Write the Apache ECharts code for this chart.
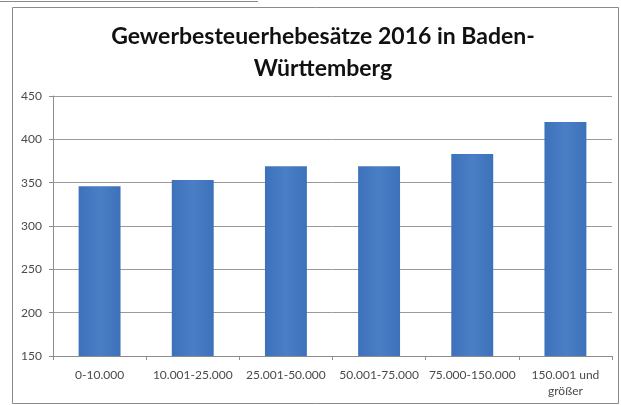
<!DOCTYPE html>
<html>
<head>
<meta charset="utf-8">
<script src="https://cdn.jsdelivr.net/npm/echarts@6/dist/echarts.min.js"></script>
<style>
  html, body { margin: 0; padding: 0; background: #ffffff; }
  #chart { width: 621px; height: 405px; }
</style>
</head>
<body>
<div id="chart"></div>
<script>
// Gemeindegrößenklassen (Einwohner) und durchschnittliche Hebesätze
const categories = ['0-10.000', '10.001-25.000', '25.001-50.000', '50.001-75.000', '75.000-150.000', '150.001 und\ngrößer'];
const hebesaetze = [346, 353, 369, 369, 383, 420];
const yTicks = { min: 150, max: 450, interval: 50 };
const titleText = 'Gewerbesteuerhebesätze 2016 in Baden-\nWürttemberg';

const chart = echarts.init(document.getElementById('chart'), null, { renderer: 'canvas' });

chart.setOption({
  animation: false,
  backgroundColor: '#ffffff',
  title: {
    text: titleText,
    left: 318,
    top: 16,
    textAlign: 'center',
    textStyle: {
      fontFamily: 'Lato, "Open Sans", sans-serif',
      fontWeight: 'bold',
      fontSize: 23,
      lineHeight: 32,
      color: '#111111'
    }
  },
  grid: { left: 53, right: 9, top: 96, bottom: 49, containLabel: false },
  xAxis: {
    type: 'category',
    data: categories,
    axisLine: { lineStyle: { color: '#8c8c8c', width: 1 } },
    axisTick: { show: true, length: 4, lineStyle: { color: '#8c8c8c' } },
    axisLabel: {
      color: '#4a4a4a',
      fontFamily: 'Lato, "Open Sans", sans-serif',
      fontSize: 12,
      lineHeight: 16,
      margin: 11,
      interval: 0
    }
  },
  yAxis: {
    type: 'value',
    min: yTicks.min,
    max: yTicks.max,
    interval: yTicks.interval,
    axisLine: { show: true, lineStyle: { color: '#8c8c8c' } },
    axisTick: { show: true, length: 4, lineStyle: { color: '#8c8c8c' } },
    axisLabel: {
      color: '#4a4a4a',
      fontFamily: 'Lato, "Open Sans", sans-serif',
      fontSize: 12,
      margin: 11
    },
    splitLine: { lineStyle: { color: '#9a9a9a', width: 1 } }
  },
  series: [{
    type: 'bar',
    data: hebesaetze,
    barWidth: '45%',
    itemStyle: {
      color: new echarts.graphic.LinearGradient(0, 0, 1, 0, [
        { offset: 0, color: '#3d72bb' },
        { offset: 0.5, color: '#4a7fc6' },
        { offset: 1, color: '#3d72bb' }
      ])
    }
  }],
  graphic: [
    {
      type: 'rect',
      shape: { x: 12.5, y: 7.5, width: 606, height: 396 },
      style: { fill: 'none', stroke: '#8a8a8a', lineWidth: 1 },
      silent: true
    },
    {
      type: 'line',
      shape: { x1: 0, y1: 1.5, x2: 258, y2: 1.5 },
      style: { stroke: '#8a8a8a', lineWidth: 1 },
      silent: true
    }
  ]
});
</script>
</body>
</html>
